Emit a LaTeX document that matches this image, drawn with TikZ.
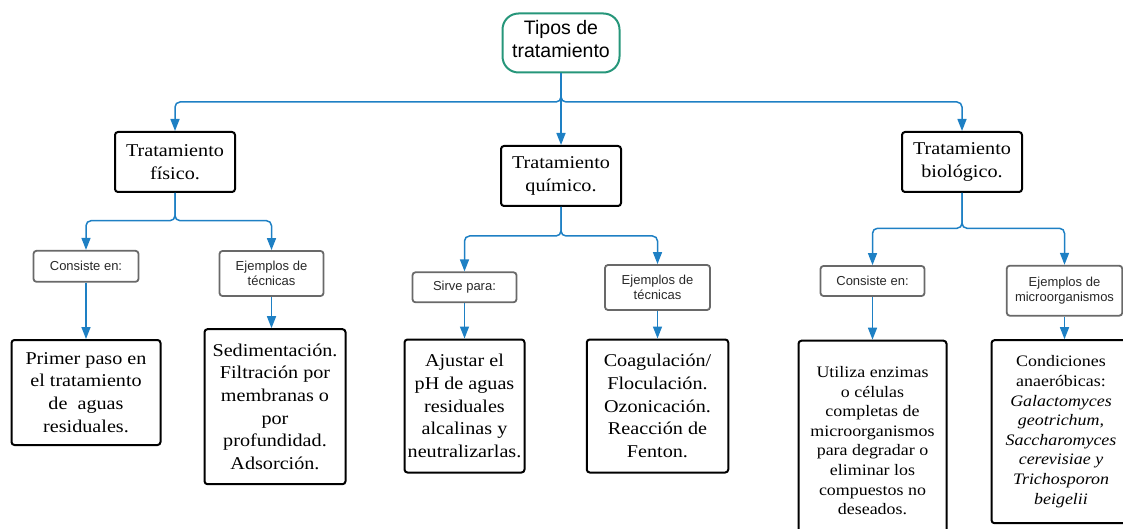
\documentclass[tikz,border=0pt]{standalone}
\usepackage{fontspec}
\setmainfont{Liberation Serif}[FakeStretch=1.12]
\newfontfamily\sansf{Liberation Sans}
\usetikzlibrary{arrows.meta}
\definecolor{cblue}{RGB}{30,128,196}
\definecolor{cteal}{RGB}{38,150,122}
\definecolor{cgray}{RGB}{105,105,105}
\definecolor{ctext}{RGB}{40,40,40}
\tikzset{
  topbox/.style={draw=cteal, line width=2pt, rounded corners=16pt, inner sep=0pt, align=center,
    minimum width=117, minimum height=59, text depth=8pt, font={\sansf\fontsize{19.5}{23}\selectfont}},
  mainbox/.style={draw=black, line width=2pt, rounded corners=3pt, inner sep=0pt, align=center,
    fill=white, font={\fontsize{18}{22.7}\selectfont}},
  smallbox/.style={mainbox, font={\fontsize{16}{19.6}\selectfont}},
  graybox/.style={draw=cgray, line width=1.8pt, rounded corners=3pt, inner sep=0pt, align=center,
    text=ctext, font={\sansf\fontsize{13}{15.7}\selectfont}},
  conn/.style={draw=cblue, line width=1.5pt, rounded corners=5pt, -{Triangle[width=9pt,length=12pt]}}
}
\begin{document}
\begin{tikzpicture}[x=1pt,y=-1pt]
\useasboundingbox (0,0) rectangle (1123,529);
\clip (0,0) rectangle (1123,529);
% top
\node[topbox] (top) at (561,43) {Tipos de\\tratamiento};
% level 1
\node[mainbox, minimum width=120, minimum height=60] (fis) at (175,162) {Tratamiento\\físico.};
\node[mainbox, minimum width=120, minimum height=60] (quim) at (561,176) {Tratamiento\\químico.};
\node[mainbox, minimum width=120, minimum height=60] (bio) at (962,162) {Tratamiento\\biológico.};
% level 2
\node[graybox, minimum width=105, minimum height=31] (c1) at (86,266.3) {Consiste en:};
\node[graybox, minimum width=104, minimum height=45] (e1) at (271.5,273.5) {Ejemplos de\\técnicas};
\node[graybox, minimum width=104, minimum height=30] (s2) at (464.5,287.3) {Sirve para:};
\node[graybox, minimum width=105, minimum height=45] (e2) at (657.5,287.5) {Ejemplos de\\técnicas};
\node[graybox, minimum width=104, minimum height=30] (c3) at (872.5,281) {Consiste en:};
\node[graybox, minimum width=115.5, minimum height=50] (e3) at (1064.5,290.7) {Ejemplos de\\microorganismos};
% level 3
\node[mainbox, minimum width=149, minimum height=105] (b1) at (86,392.5) {Primer paso en\\el tratamiento\\de\ \ aguas\\residuales.};
\node[mainbox, minimum width=141, minimum height=155] (b2) at (275,406.7) {Sedimentación.\\Filtración por\\membranas o\\por\\profundidad.\\Adsorción.};
\node[mainbox, minimum width=120, minimum height=133] (b3) at (464.5,406) {Ajustar el\\pH de aguas\\residuales\\alcalinas y\\neutralizarlas.};
\node[mainbox, minimum width=141.5, minimum height=133] (b4) at (657.5,406) {Coagulación/\\Floculación.\\Ozonicación.\\Reacción de\\Fenton.};
\node[smallbox, minimum width=148, minimum height=200] (b5) at (872.5,440.7) {Utiliza enzimas\\o células\\completas de\\microorganismos\\para degradar o\\eliminar los\\compuestos no\\deseados.};
\node[smallbox, minimum width=139, minimum height=183] (b6) at (1061,431.7) {Condiciones\\anaeróbicas:\\\textit{Galactomyces}\\\textit{geotrichum,}\\\textit{Saccharomyces}\\\textit{cerevisiae y}\\\textit{Trichosporon}\\\textit{beigelii}};
% junctions
\coordinate (jt) at (561,102);
\coordinate (j1) at (175,220.7);
\coordinate (j2) at (561,236);
\coordinate (j3) at (962,228.3);
% connectors
\draw[conn] (top.south) -- (quim.north);
\draw[conn] (top.south) -- (jt) -| (fis.north);
\draw[conn] (top.south) -- (jt) -| (bio.north);
\draw[conn] (fis.south) -- (j1) -| (c1.north);
\draw[conn] (fis.south) -- (j1) -| (e1.north);
\draw[conn] (quim.south) -- (j2) -| (s2.north);
\draw[conn] (quim.south) -- (j2) -| (e2.north);
\draw[conn] (bio.south) -- (j3) -| (c3.north);
\draw[conn] (bio.south) -- (j3) -| (e3.north);
\draw[conn] (c1.south) -- (b1.north);
\draw[conn] (e1.south) -- (e1.south |- b2.north);
\draw[conn] (s2.south) -- (b3.north);
\draw[conn] (e2.south) -- (b4.north);
\draw[conn] (c3.south) -- (b5.north);
\draw[conn] (e3.south) -- (e3.south |- b6.north);
\end{tikzpicture}
\end{document}
